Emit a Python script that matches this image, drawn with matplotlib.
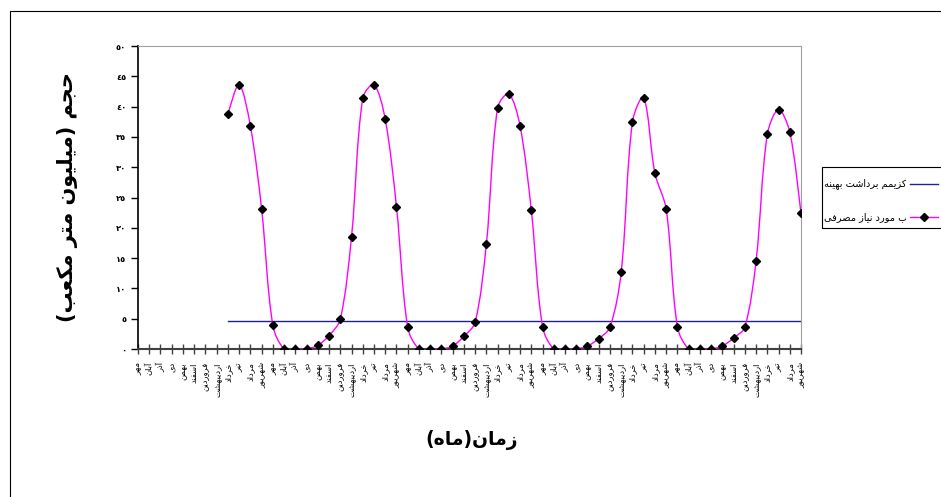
import numpy as np
import matplotlib
matplotlib.use('Agg')
import matplotlib.pyplot as plt
from matplotlib.path import Path
from matplotlib.patches import PathPatch, Rectangle
from matplotlib.lines import Line2D

plt.rcParams['font.family'] = ['DejaVu Sans']

# data (million m3), 5 water years from Mehr
months = ['مهر', 'آبان', 'آذر', 'دی', 'بهمن', 'اسفند', 'فروردین',
          'اردیبهشت', 'خرداد', 'تیر', 'مرداد', 'شهریور']
month_labels = months * 5
nan = np.nan
demand = [nan] * 8 + [
    38.8, 43.6, 36.8, 23.1, 3.9, 0, 0, 0, 0.6, 2.2, 4.9, 18.5,
    41.4, 43.6, 37.9, 23.5, 3.6, 0, 0, 0, 0.5, 2.1, 4.4, 17.3,
    39.8, 42.1, 36.8, 22.9, 3.7, 0, 0, 0, 0.5, 1.7, 3.6, 12.7,
    37.5, 41.5, 29.0, 23.1, 3.7, 0, 0, 0, 0.5, 1.8, 3.6, 14.5,
    35.4, 39.5, 35.8, 22.4]
harvest = [nan] * 8 + [4.6] * 52
yticks = [0, 5, 10, 15, 20, 25, 30, 35, 40, 45, 50]

legend_names = ['ماکزیمم برداشت بهینه', 'آب مورد نیاز مصرفی']
ylabel = 'حجم (میلیون متر مکعب)'
xlabel = 'زمان(ماه)'

# --- minimal arabic shaping (matplotlib has no text shaping) ---
FORMS = {
    'ا': (0xFE8D, 0xFE8E, None, None), 'آ': (0xFE81, 0xFE82, None, None),
    'ب': (0xFE8F, 0xFE90, 0xFE91, 0xFE92), 'ت': (0xFE95, 0xFE96, 0xFE97, 0xFE98),
    'ج': (0xFE9D, 0xFE9E, 0xFE9F, 0xFEA0), 'ح': (0xFEA1, 0xFEA2, 0xFEA3, 0xFEA4),
    'خ': (0xFEA5, 0xFEA6, 0xFEA7, 0xFEA8), 'د': (0xFEA9, 0xFEAA, None, None),
    'ذ': (0xFEAB, 0xFEAC, None, None), 'ر': (0xFEAD, 0xFEAE, None, None),
    'ز': (0xFEAF, 0xFEB0, None, None), 'س': (0xFEB1, 0xFEB2, 0xFEB3, 0xFEB4),
    'ش': (0xFEB5, 0xFEB6, 0xFEB7, 0xFEB8), 'ص': (0xFEB9, 0xFEBA, 0xFEBB, 0xFEBC),
    'ع': (0xFEC9, 0xFECA, 0xFECB, 0xFECC), 'ف': (0xFED1, 0xFED2, 0xFED3, 0xFED4),
    'ل': (0xFEDD, 0xFEDE, 0xFEDF, 0xFEE0), 'م': (0xFEE1, 0xFEE2, 0xFEE3, 0xFEE4),
    'ن': (0xFEE5, 0xFEE6, 0xFEE7, 0xFEE8), 'ه': (0xFEE9, 0xFEEA, 0xFEEB, 0xFEEC),
    'و': (0xFEED, 0xFEEE, None, None), 'ی': (0xFBFC, 0xFBFD, 0xFBFE, 0xFBFF),
    'ک': (0xFB8E, 0xFB8F, 0xFB90, 0xFB91),
}


def fa(s):
    out = []
    for i, c in enumerate(s):
        if c not in FORMS:
            out.append(c)
            continue
        prev = s[i - 1] if i > 0 else ''
        nxt = s[i + 1] if i + 1 < len(s) else ''
        jp = prev in FORMS and FORMS[prev][2] is not None
        jn = nxt in FORMS and FORMS[c][2] is not None
        iso, fin, ini, med = FORMS[c]
        code = med if (jp and jn) else fin if jp else ini if jn else iso
        out.append(chr(code))
    vis = ''.join(reversed(out))
    return vis.translate(str.maketrans('()', ')('))


def fa_digits(n):
    return str(n).translate(str.maketrans('0123456789', '٠١٢٣٤٥٦٧٨٩'))


def smooth_path(xs, ys, sx, sy):
    # bezier through the points, handle length scaled by neighbouring
    # segment lengths in screen space (close to excel's smoothed line)
    p = np.column_stack([xs, ys])
    n = len(p)
    scr = p * [sx, sy]
    seg = np.hypot(*np.diff(scr, axis=0).T)
    verts = [p[0]]
    codes = [Path.MOVETO]
    for i in range(n - 1):
        d1 = seg[i]
        d0 = seg[i - 1] if i > 0 else d1
        d2 = seg[i + 1] if i + 1 < n - 1 else d1
        p0 = p[i - 1] if i > 0 else p[i]
        p3 = p[i + 2] if i + 2 < n else p[i + 1]
        c1 = p[i] + (p[i + 1] - p0) * d1 / (d0 + d1) / 3.0
        c2 = p[i + 1] - (p3 - p[i]) * d1 / (d1 + d2) / 3.0
        verts += [c1, c2, p[i + 1]]
        codes += [Path.CURVE4] * 3
    return Path(verts, codes)


fig = plt.figure(figsize=(9.41, 4.97), dpi=100)
W, H = 941.0, 497.0
ax = fig.add_axes([138 / W, 1 - 349 / H, (801 - 138) / W, (349 - 46) / H])

x = np.arange(len(month_labels))
d = np.array(demand, dtype=float)
ok = ~np.isnan(d)

ax.set_xlim(0, len(month_labels) - 1)
ax.set_ylim(0, 50)
sx = (801 - 138) / (len(month_labels) - 1)
sy = (349 - 46) / 50.0

ax.add_patch(PathPatch(smooth_path(x[ok], d[ok], sx, sy), fill=False,
                       edgecolor='#FF00FF', lw=1.0, zorder=3))
ax.plot(x[ok], d[ok], linestyle='none', marker='D', color='black',
        markersize=4, zorder=4)
ax.plot(x, harvest, color='#202090', lw=1.0, zorder=2)

ax.set_yticks(yticks)
ax.set_yticklabels([fa_digits(v) for v in yticks], fontsize=6, fontweight='bold')
ax.set_xticks(x)
ax.set_xticklabels([fa(m) for m in month_labels], rotation=90, fontsize=6,
                   va='top', ha='center')
ax.tick_params(axis='x', direction='inout', length=7, width=1, color='#404040', pad=6)
ax.tick_params(axis='y', direction='out', length=5, width=1, color='black', pad=3.5)

ax.spines['left'].set_color('black')
ax.spines['left'].set_linewidth(1.2)
ax.spines['bottom'].set_color('#404040')
ax.spines['bottom'].set_linewidth(1.5)
ax.spines['top'].set_color('#a0a0a0')
ax.spines['right'].set_color('#a0a0a0')

fig.text(68 / W, 1 - 197 / H, fa(ylabel), rotation=90, fontsize=15,
         fontweight='bold', ha='center', va='center')
fig.text(472 / W, 1 - 440 / H, fa(xlabel), fontsize=13.5, fontweight='bold',
         ha='center', va='center')

# outer chart border (cut at right/bottom like the reference)
fig.patches.append(Rectangle((10 / W, -0.1), 1.2, 1 - 11 / H + 0.1,
                             transform=fig.transFigure, fill=False,
                             edgecolor='black', lw=0.8))

# legend box, running past the figure edge; the text is too long for
# its slot and gets cut before the line samples
box = Rectangle((822 / W, 1 - 228 / H), 0.2, 61 / H, transform=fig.transFigure,
                fill=False, edgecolor='black', lw=0.8)
fig.patches.append(box)
slot = Rectangle((822 / W, 1 - 228 / H), (906 - 822) / W, 61 / H,
                 transform=fig.transFigure)
for name, yy, col, mk in [(legend_names[0], 184, '#202090', None),
                          (legend_names[1], 217, '#FF00FF', 'D')]:
    fig.lines.append(Line2D([910 / W, 938 / W], [1 - yy / H] * 2,
                            transform=fig.transFigure, color=col, lw=1.0))
    if mk:
        fig.lines.append(Line2D([924 / W], [1 - yy / H], transform=fig.transFigure,
                                marker='D', color='black', markersize=4))
    t = fig.text(824 / W, 1 - yy / H, fa(name), fontsize=7, ha='left', va='center')
    t.set_clip_path(slot)

fig.savefig('out.png', dpi=100)
